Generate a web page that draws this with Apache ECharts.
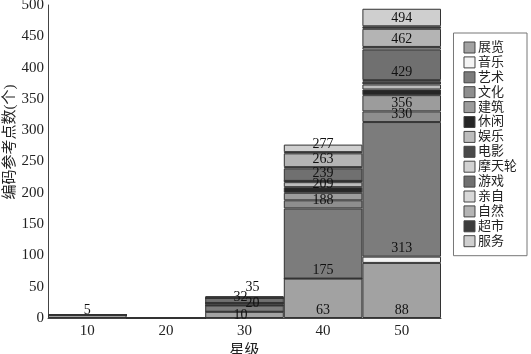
<!DOCTYPE html>
<html>
<head>
<meta charset="utf-8">
<script src="https://cdn.jsdelivr.net/npm/echarts@6/dist/echarts.min.js"></script>
<style>
  html, body { margin: 0; padding: 0; background: #fff; }
  #chart { width: 531px; height: 354px; }
</style>
</head>
<body>
<div id="chart"></div>
<script>
// star levels on x axis
const categories = ['10', '20', '30', '40', '50']
const yTicks = [0, 50, 100, 150, 200, 250, 300, 350, 400, 450, 500]

// segment values per category (stacked, bottom to top)
const zhanlan = [5, 0, 10, 63, 88]
const yinyue = [0, 0, 0, 0, 10]
const yishu = [0, 0, 10, 112, 215]
const wenhua = [0, 0, 0, 13, 17]
const jianzhu = [0, 0, 3, 12, 26]
const xiuxian = [0, 0, 1, 9, 9]
const yule = [0, 0, 0, 8, 8]
const dianying = [0, 0, 0, 2, 5]
const motianlun = [0, 0, 0, 0, 2]
const youxi = [0, 0, 8, 20, 49]
const qinzi = [0, 0, 0, 2, 4]
const ziran = [0, 0, 0, 22, 29]
const chaoshi = [0, 0, 0, 2, 4]
const fuwu = [0, 0, 3, 12, 28]

const seriesNames = ['展览', '音乐', '艺术', '文化', '建筑', '休闲', '娱乐', '电影', '摩天轮', '游戏', '亲自', '自然', '超市', '服务']
const seriesValues = [zhanlan, yinyue, yishu, wenhua, jianzhu, xiuxian, yule, dianying, motianlun, youxi, qinzi, ziran, chaoshi, fuwu]
const greys = ['#a2a2a2', '#f4f4f4', '#7c7c7c', '#8e8e8e', '#9c9c9c', '#262626', '#bdbdbd', '#4a4a4a', '#d2d2d2', '#707070', '#d8d8d8', '#b4b4b4', '#3c3c3c', '#cfcfcf']

// which running totals get printed: [category index, series name]
const shownTotals = [
  [0, '展览'],
  [2, '展览'], [2, '艺术'], [2, '游戏'], [2, '服务'],
  [3, '展览'], [3, '艺术'], [3, '文化'], [3, '休闲'], [3, '游戏'], [3, '自然'], [3, '服务'],
  [4, '展览'], [4, '艺术'], [4, '文化'], [4, '建筑'], [4, '游戏'], [4, '自然'], [4, '服务']
]
// small nudges for the crowded labels on the 30 bar
const labelNudge = { '2|展览': [-4, 5], '2|艺术': [8, 0], '2|游戏': [-4, 2], '2|服务': [8, -3] }

const serif = '"Liberation Serif", "Noto Sans CJK SC", serif'

function runningTotal(sIdx, cIdx) {
  let sum = 0
  for (let i = 0; i <= sIdx; i++) sum += seriesValues[i][cIdx]
  return sum
}

let myChart = echarts.init(document.getElementById('chart'))

const series = seriesNames.map((name, sIdx) => ({
  name: name,
  type: 'bar',
  stack: 'total',
  barCategoryGap: 0,
  itemStyle: { color: greys[sIdx], borderColor: '#333', borderWidth: 1 },
  data: seriesValues[sIdx].map((v, cIdx) => {
    const shown = shownTotals.some(p => p[0] === cIdx && p[1] === name)
    return {
      value: v,
      label: {
        show: shown,
        position: 'insideBottom',
        distance: 1,
        offset: labelNudge[cIdx + '|' + name] || [0, 0],
        formatter: () => String(runningTotal(sIdx, cIdx)),
        color: '#111',
        fontFamily: serif,
        fontSize: 14
      }
    }
  })
}))

myChart.setOption({
  animation: false,
  color: greys,
  grid: { left: 48, right: 90, top: 5, bottom: 36, outerBoundsMode: 'none', containLabel: false },
  graphic: [{
    type: 'text',
    x: 10,
    y: 142,
    rotation: Math.PI / 2,
    style: {
      text: '编码参考点数(个)',
      font: '15px ' + serif,
      fill: '#222',
      align: 'center',
      verticalAlign: 'middle'
    }
  }],
  legend: {
    orient: 'vertical',
    right: 4,
    top: 33,
    width: 75,
    padding: [8, 10, 8, 10],
    borderColor: '#777',
    borderWidth: 1,
    itemWidth: 11,
    itemHeight: 11,
    itemGap: 1.9,
    icon: 'rect',
    itemStyle: { borderColor: '#444', borderWidth: 1 },
    textStyle: { fontFamily: serif, fontSize: 13, color: '#222', padding: [0, 0, 0, -2] },
    data: seriesNames
  },
  xAxis: {
    type: 'category',
    data: categories,
    name: '星级',
    nameLocation: 'middle',
    nameGap: 26,
    nameTextStyle: { fontFamily: serif, fontSize: 15, color: '#222' },
    axisTick: { show: false },
    axisLine: { lineStyle: { color: '#444' } },
    axisLabel: { fontFamily: serif, fontSize: 15, color: '#222', margin: 6 }
  },
  yAxis: {
    type: 'value',
    min: yTicks[0],
    max: yTicks[yTicks.length - 1],
    interval: yTicks[1] - yTicks[0],
    splitLine: { show: false },
    axisTick: { show: false },
    axisLine: { show: true, lineStyle: { color: '#444' } },
    axisLabel: { fontFamily: serif, fontSize: 15, color: '#222', margin: 4 }
  },
  series: series
})
</script>
</body>
</html>
